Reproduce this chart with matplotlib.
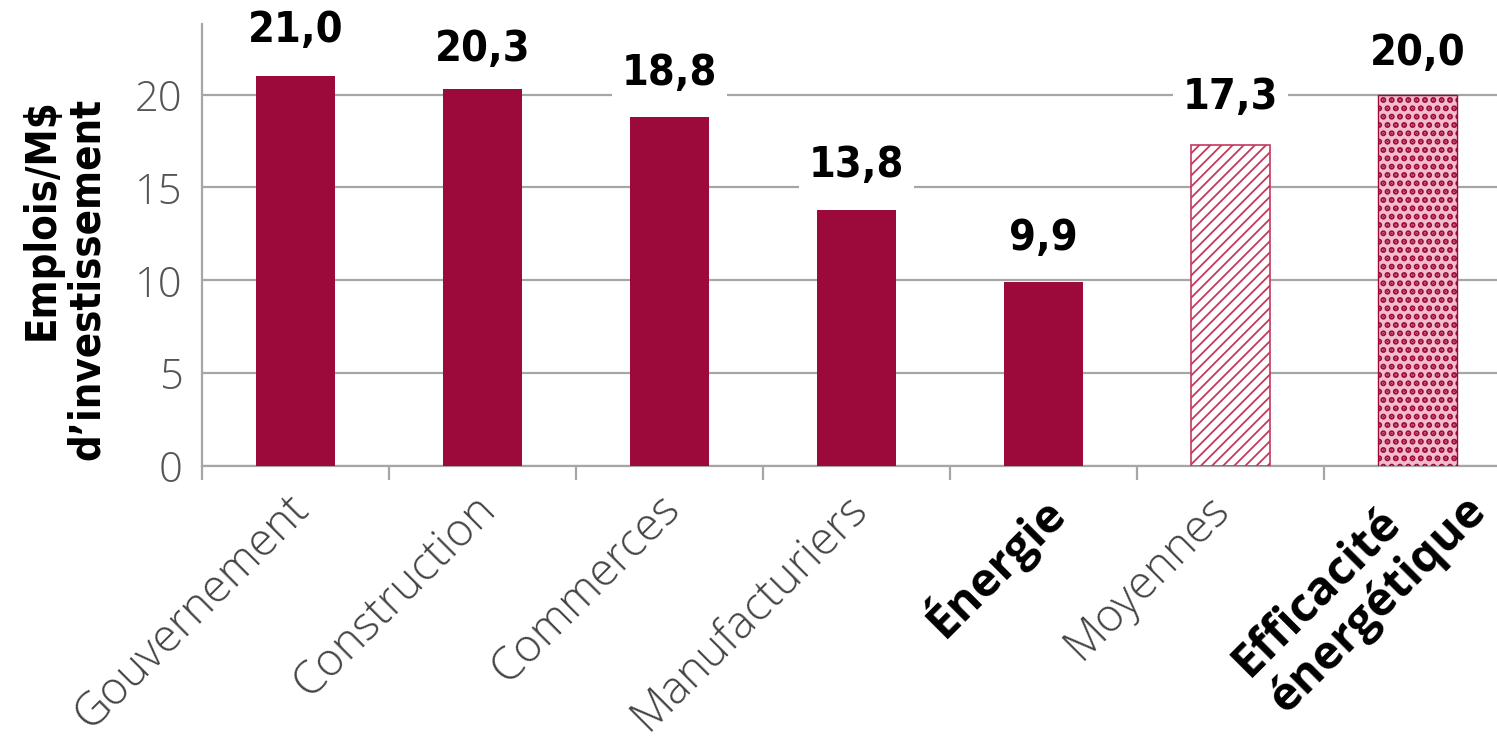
import matplotlib.pyplot as plt
import matplotlib
from matplotlib import font_manager
from matplotlib.transforms import ScaledTranslation

categories = ["Gouvernement", "Construction", "Commerces", "Manufacturiers",
              "Énergie", "Moyennes", "Efficacité\nénergétique"]
values = [21.0, 20.3, 18.8, 13.8, 9.9, 17.3, 20.0]
labels = ["21,0", "20,3", "18,8", "13,8", "9,9", "17,3", "20,0"]
boldCats = ["Énergie", "Efficacité\nénergétique"]

# layout (label centres in data units, tick label shifts in px)
labelY = [23.45, 22.45, 21.15, 16.2, 12.25, 19.85, 22.25]
tickShift = [(-10, 20), (-10, 20), (-12, 20), (-12, 20), (-6, 19), (-24, 20), (8, -16)]

barColor = "#9b0a3a"
gridColor = "#a6a6a6"
lightFont = "Open Sans"

# look for a condensed bold face for the numbers
condensed = None
for f in font_manager.fontManager.ttflist:
    nm = f.name + " " + f.fname
    if ("Condensed" in nm or "Narrow" in nm or f.stretch in ("condensed", "semi-condensed")) \
            and f.weight in ("bold", 700, "semibold", 600, "demibold"):
        condensed = f.fname
        break
if condensed:
    numProp = font_manager.FontProperties(fname=condensed, size=31)
    ylabProp = font_manager.FontProperties(fname=condensed, size=30)
else:
    numProp = font_manager.FontProperties(family="DejaVu Sans", weight="bold", size=27)
    ylabProp = font_manager.FontProperties(family="DejaVu Sans", weight="bold", size=24)

fig = plt.figure(figsize=(14.97, 7.42), dpi=100)
ax = fig.add_axes([0.1349, 0.372, 0.8744, 0.5957])

xs = list(range(len(categories)))
for i in xs:
    if i == 5:
        with matplotlib.rc_context({'hatch.linewidth': 1.3}):
            ax.bar(i, values[i], width=0.42, facecolor="white", edgecolor="#c23a5e",
                   hatch="///", linewidth=1.2, zorder=3)
    elif i == 6:
        with matplotlib.rc_context({'hatch.linewidth': 3.0}):
            ax.bar(i, values[i], width=0.42, facecolor="#f2bccb", edgecolor=barColor,
                   hatch="..", linewidth=1.0, zorder=3)
    else:
        ax.bar(i, values[i], width=0.42, color=barColor, zorder=3)
    ax.text(i, labelY[i], labels[i], ha="center", va="center",
            fontproperties=numProp, zorder=4,
            bbox=dict(facecolor="white", edgecolor="none", pad=7))

ax.set_xlim(-0.5, 6.5)
ax.set_ylim(0, 23.8)
ax.set_yticks([0, 5, 10, 15, 20])
ax.yaxis.grid(True, color=gridColor, linewidth=1.6, zorder=0)
ax.set_axisbelow(True)

for s in ["top", "right"]:
    ax.spines[s].set_visible(False)
ax.spines["left"].set_color(gridColor)
ax.spines["left"].set_linewidth(1.6)
ax.spines["bottom"].set_color(gridColor)
ax.spines["bottom"].set_linewidth(1.6)

ax.tick_params(axis="y", length=0, pad=14, labelsize=30, labelcolor="#555555")
for t in ax.get_yticklabels():
    t.set_family(lightFont)
    t.set_fontweight("light")

# separator ticks between categories
ax.set_xticks([i + 0.5 for i in range(-1, 6)], minor=True)
ax.tick_params(axis="x", which="minor", length=10, width=1.6, color=gridColor)
ax.set_xticks([])

for i, c in enumerate(categories):
    dx, dy = tickShift[i]
    tr = ax.transData + ScaledTranslation(dx / 100, -dy / 100, fig.dpi_scale_trans)
    if c in boldCats:
        ax.text(i, 0, c, transform=tr, rotation=45, rotation_mode="anchor",
                ha="right", va="top", multialignment="left", fontsize=34,
                family="Open Sans", fontweight="bold", color="black",
                linespacing=1.15, clip_on=False)
    else:
        ax.text(i, 0, c, transform=tr, rotation=45, rotation_mode="anchor",
                ha="right", va="top", fontsize=33, family=lightFont,
                fontweight="light", color="#444444", clip_on=False)

fig.text(0.043, 0.624, "Emplois/M$\nd’investissement", rotation=90, ha="center",
         va="center", multialignment="right", fontproperties=ylabProp,
         linespacing=1.1)

fig.savefig("out.png", dpi=100)
